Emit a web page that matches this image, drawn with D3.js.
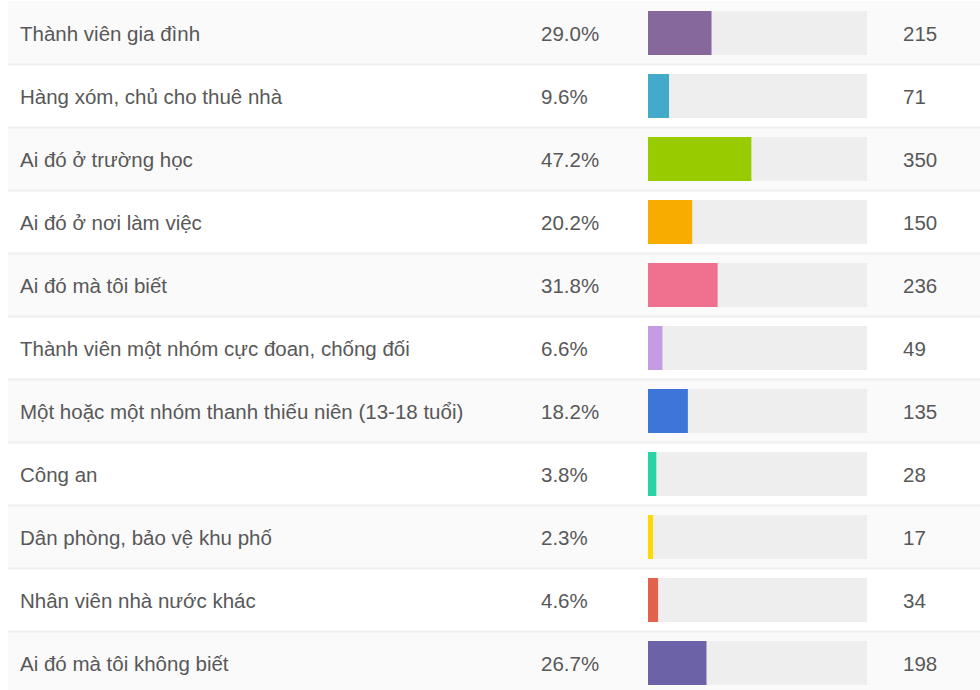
<!DOCTYPE html>
<html>
<head>
<meta charset="utf-8">
<script src="https://cdn.jsdelivr.net/npm/d3@7"></script>
<style>
  body { margin: 0; background: #fff; }
  text { font-family: "Liberation Sans", Arial, sans-serif; }
</style>
</head>
<body>
<div id="chart"></div>
<script>
var categories = [
	"Thành viên gia đình",
	"Hàng xóm, chủ cho thuê nhà",
	"Ai đó ở trường học",
	"Ai đó ở nơi làm việc",
	"Ai đó mà tôi biết",
	"Thành viên một nhóm cực đoan, chống đối",
	"Một hoặc một nhóm thanh thiếu niên (13-18 tuổi)",
	"Công an",
	"Dân phòng, bảo vệ khu phố",
	"Nhân viên nhà nước khác",
	"Ai đó mà tôi không biết"
];
var percents = [29.0, 9.6, 47.2, 20.2, 31.8, 6.6, 18.2, 3.8, 2.3, 4.6, 26.7];
var counts = [215, 71, 350, 150, 236, 49, 135, 28, 17, 34, 198];
var barColors = ["#86689c", "#44aacc", "#99cc00", "#f9ac00", "#f07090", "#c49be4",
	"#3d75d9", "#2ad3a6", "#ffd800", "#e2614d", "#6b62a7"];

var width = 980, height = 690;
var rowTop = 1, rowH = 63;

var svg = d3.select("#chart").append("svg")
	.attr("width", width)
	.attr("height", height);

var y = d3.scaleBand()
	.domain(d3.range(categories.length))
	.range([rowTop, rowTop + rowH * categories.length])
	.padding(0);

var x = d3.scaleLinear().domain([0, 100]).range([648, 867]);

var rows = svg.selectAll("g.row")
		.data(categories)
	.enter().append("g")
		.attr("class", "row")
		.attr("transform", function(d, i) { return "translate(0," + y(i) + ")"; });

rows.append("rect")
	.attr("x", 8)
	.attr("width", width - 8)
	.attr("height", y.bandwidth())
	.attr("fill", function(d, i) { return i % 2 === 0 ? "#fafafa" : "#fff"; });

// separators
rows.filter(function(d, i) { return i > 0; })
	.append("line")
	.attr("x1", 8).attr("x2", width)
	.attr("y1", 0.5).attr("y2", 0.5)
	.attr("stroke", "#efefef")
	.attr("stroke-width", 2);

// track
rows.append("rect")
	.attr("x", x(0))
	.attr("y", 10)
	.attr("width", x(100) - x(0))
	.attr("height", 44)
	.attr("fill", "#eeeeee");

rows.append("rect")
	.attr("x", x(0))
	.attr("y", 10)
	.attr("width", function(d, i) { return x(percents[i]) - x(0); })
	.attr("height", 44)
	.attr("fill", function(d, i) { return barColors[i]; });

var textY = y.bandwidth() / 2 + 8;

rows.append("text")
	.attr("x", 20).attr("y", textY)
	.attr("fill", "#585858")
	.style("font-size", "20.5px")
	.text(function(d) { return d; });

rows.append("text")
	.attr("x", 541).attr("y", textY)
	.attr("fill", "#585858")
	.style("font-size", "20.5px")
	.text(function(d, i) { return percents[i].toFixed(1) + "%"; });

rows.append("text")
	.attr("x", 903).attr("y", textY)
	.attr("fill", "#585858")
	.style("font-size", "20.5px")
	.text(function(d, i) { return counts[i]; });
</script>
</body>
</html>
